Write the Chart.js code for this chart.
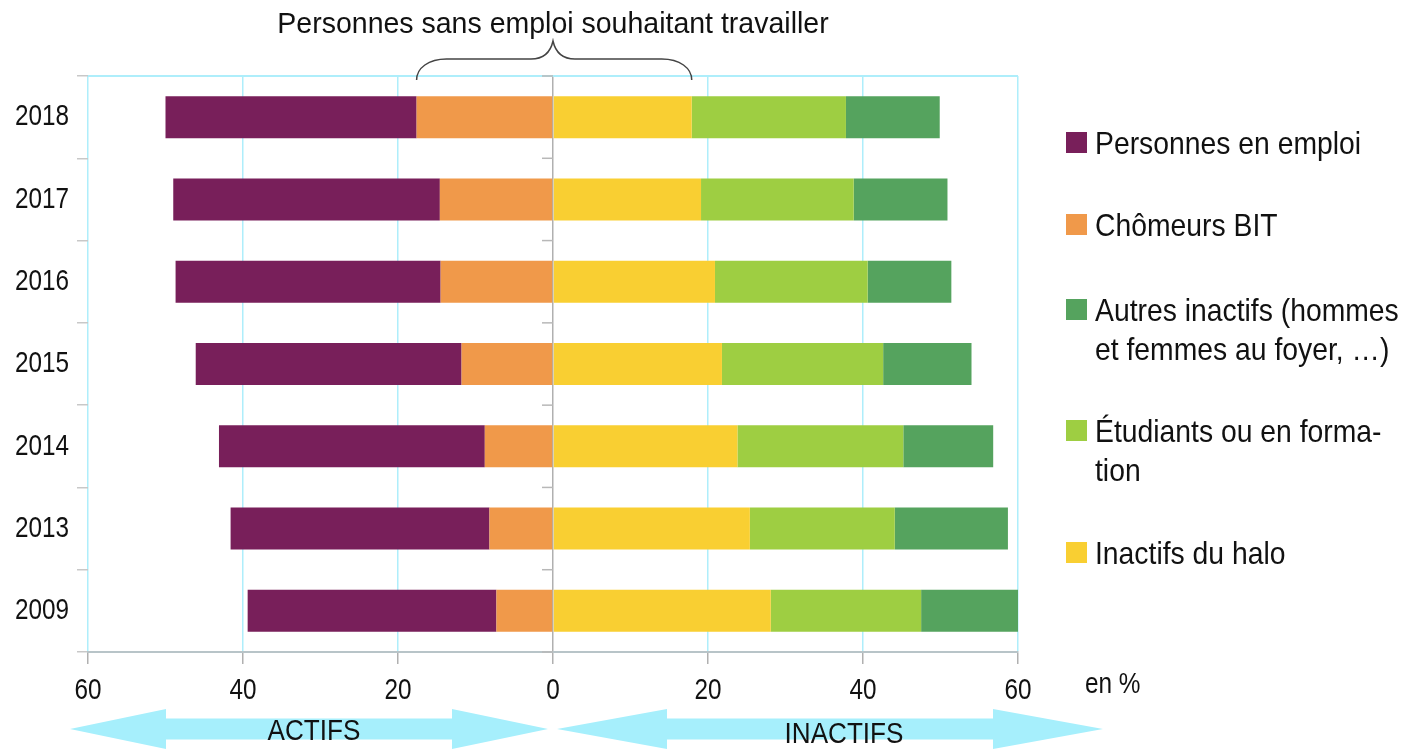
<!DOCTYPE html>
<html>
<head>
<meta charset="utf-8">
<script src="https://cdn.jsdelivr.net/npm/chart.js@4"></script>
<style>
  body { margin: 0; background: #fff; }
  #wrap { position: relative; width: 1403px; height: 749px; overflow: hidden;
          font-family: 'Liberation Sans', Arial, sans-serif; color: #111; }
  #chart { position: absolute; left: 0; top: 0; }
  .txt { position: absolute; font-size: 30px; line-height: 39px; white-space: nowrap; }
  .sw { position: absolute; width: 21px; height: 21px; }
</style>
</head>
<body>
<div id="wrap">
  <canvas id="chart" width="1403" height="749"></canvas>
  <div class="txt" style="left:0; width:1106px; top:3px; text-align:center; transform:scaleX(0.95);">Personnes sans emploi souhaitant travailler</div>
  <div class="txt" style="left:1085px; top:664px; font-size:29px; transform:scaleX(0.84); transform-origin:0 0;">en %</div>
  <div class="txt" style="left:214px; width:200px; top:710px; text-align:center; transform:scaleX(0.87);">ACTIFS</div>
  <div class="txt" style="left:744px; width:200px; top:713px; text-align:center; transform:scaleX(0.87);">INACTIFS</div>
  <div id="legend"></div>
</div>
<script>
// years, top to bottom
let years = ['2018', '2017', '2016', '2015', '2014', '2013', '2009']

// actifs (drawn to the left of 0)
let emploi = [32.4, 34.4, 34.2, 34.3, 34.3, 33.4, 32.1]
let chomeurs = [17.6, 14.6, 14.5, 11.8, 8.8, 8.2, 7.3]

// inactifs (drawn to the right of 0)
let halo = [17.9, 19.1, 20.9, 21.8, 23.8, 25.4, 28.1]
let etudiants = [19.9, 19.7, 19.7, 20.8, 21.4, 18.7, 19.4]
let autres = [12.1, 12.1, 10.8, 11.4, 11.6, 14.6, 12.5]

let xTicks = [-60, -40, -20, 0, 20, 40, 60]

let colors = {
    emploi: '#781F5A',
    chomeurs: '#F0994A',
    autres: '#55A35E',
    etudiants: '#9ECE42',
    halo: '#F9CF32'
}

let cyan = '#aeeefb'
let arrowColor = '#a6effc'

// legend, in the order of the picture
let legendItems = [
    { label: 'Personnes en emploi', color: colors.emploi, top: 124 },
    { label: 'Chômeurs BIT', color: colors.chomeurs, top: 206 },
    { label: 'Autres inactifs (hommes<br>et femmes au foyer, …)', color: colors.autres, top: 291 },
    { label: 'Étudiants ou en forma-<br>tion', color: colors.etudiants, top: 412 },
    { label: 'Inactifs du halo', color: colors.halo, top: 534 }
]

let legendBox = document.querySelector('#legend')
legendItems.forEach(function(item) {
    let sw = document.createElement('div')
    sw.className = 'sw'
    sw.style.left = '1066px'
    sw.style.top = (item.top + 8) + 'px'
    sw.style.background = item.color
    legendBox.appendChild(sw)
    let t = document.createElement('div')
    t.className = 'txt'
    t.style.left = '1095px'
    t.style.top = item.top + 'px'
    t.style.fontSize = '32px'
    t.style.transform = 'scaleX(0.885)'
    t.style.transformOrigin = '0 0'
    t.innerHTML = item.label
    legendBox.appendChild(t)
})

let fontFamily = "'Liberation Sans', Arial, sans-serif"

// the tick labels of the picture use a narrow face: squeeze canvas text
let narrowText = {
    id: 'narrowText',
    beforeDraw(chart) {
        let ctx = chart.ctx
        if (ctx._narrow) return
        let fill = ctx.fillText
        ctx.fillText = function(text, x, y, maxWidth) {
            let w = this.measureText(text).width * 0.81
            if (maxWidth !== undefined) w = Math.min(w, maxWidth)
            return fill.call(this, text, x, y, w)
        }
        ctx._narrow = true
    }
}

// arrows, brace and small ticks along the zero line
let decorations = {
    id: 'decorations',
    beforeDatasetsDraw(chart) {
        let ctx = chart.ctx
        let area = chart.chartArea
        ctx.save()
        ctx.strokeStyle = cyan
        ctx.lineWidth = 2
        ctx.beginPath()
        ctx.moveTo(area.left, area.top)
        ctx.lineTo(area.right, area.top)
        ctx.stroke()
        ctx.restore()
    },
    afterDraw(chart) {
        let ctx = chart.ctx
        let x = chart.scales.x
        let y = chart.scales.y
        let zero = x.getPixelForValue(0)
        ctx.save()

        // ticks on the zero line
        ctx.strokeStyle = '#b8b8b8'
        ctx.lineWidth = 1.5
        for (let i = 0; i <= years.length; i++) {
            let py = y.getPixelForValue(i - 0.5)
            ctx.beginPath()
            ctx.moveTo(zero - 11, py)
            ctx.lineTo(zero, py)
            ctx.stroke()
        }

        // arrows
        function arrow(x1, x2, cy, head) {
            ctx.beginPath()
            ctx.moveTo(x1, cy)
            ctx.lineTo(x1 + head, cy - 20)
            ctx.lineTo(x1 + head, cy - 10.5)
            ctx.lineTo(x2 - head, cy - 10.5)
            ctx.lineTo(x2 - head, cy - 20)
            ctx.lineTo(x2, cy)
            ctx.lineTo(x2 - head, cy + 20)
            ctx.lineTo(x2 - head, cy + 10.5)
            ctx.lineTo(x1 + head, cy + 10.5)
            ctx.lineTo(x1 + head, cy + 20)
            ctx.closePath()
            ctx.fill()
        }
        ctx.fillStyle = arrowColor
        arrow(x.getPixelForValue(-60) - 18, zero - 5, 729, 96)
        arrow(zero + 4, x.getPixelForValue(60) + 85, 729, 110)

        // brace over the top bar: chômeurs + halo
        let xl = x.getPixelForValue(-chomeurs[0])
        let xr = x.getPixelForValue(halo[0])
        let top = chart.chartArea.top
        ctx.strokeStyle = '#444'
        ctx.lineWidth = 1.5
        ctx.beginPath()
        ctx.moveTo(xl, top + 4)
        ctx.bezierCurveTo(xl, top - 8, xl + 12, top - 17, xl + 30, top - 17)
        ctx.lineTo(zero - 22, top - 17)
        ctx.bezierCurveTo(zero - 8, top - 17, zero - 2, top - 26, zero, top - 35)
        ctx.bezierCurveTo(zero + 2, top - 26, zero + 8, top - 17, zero + 22, top - 17)
        ctx.lineTo(xr - 30, top - 17)
        ctx.bezierCurveTo(xr - 12, top - 17, xr, top - 8, xr, top + 4)
        ctx.stroke()
        ctx.restore()
    }
}

let ctx = document.querySelector('#chart').getContext('2d')

let chart = new Chart(ctx, {
    type: 'bar',
    data: {
        labels: years,
        datasets: [
            // nearest to zero first
            { label: 'Chômeurs BIT', data: chomeurs.map(v => -v), backgroundColor: colors.chomeurs },
            { label: 'Personnes en emploi', data: emploi.map(v => -v), backgroundColor: colors.emploi },
            { label: 'Inactifs du halo', data: halo, backgroundColor: colors.halo },
            { label: 'Étudiants ou en formation', data: etudiants, backgroundColor: colors.etudiants },
            { label: 'Autres inactifs (hommes et femmes au foyer, …)', data: autres, backgroundColor: colors.autres }
        ]
    },
    options: {
        indexAxis: 'y',
        responsive: false,
        animation: false,
        layout: { padding: { left: 0, top: 76, right: 385, bottom: 0 } },
        datasets: { bar: { barPercentage: 0.51, categoryPercentage: 1 } },
        plugins: {
            legend: { display: false },
            tooltip: { enabled: false }
        },
        scales: {
            x: {
                stacked: true,
                min: -60,
                max: 60,
                afterFit: function(scale) { scale.height = 97 },
                afterBuildTicks: function(scale) { scale.ticks = xTicks.map(v => ({ value: v })) },
                ticks: {
                    padding: 9,
                    color: '#111',
                    font: { family: fontFamily, size: 30 },
                    callback: function(value) { return Math.abs(value) }
                },
                grid: {
                    color: function(c) { return c.tick && c.tick.value === 0 ? '#b0b0b0' : cyan },
                    lineWidth: 1.5,
                    tickColor: '#b0b0b0',
                    tickLength: 12
                },
                border: { color: '#b8c4c8', width: 2 }
            },
            y: {
                stacked: true,
                afterFit: function(scale) { scale.width = 88 },
                ticks: {
                    padding: 8,
                    color: '#111',
                    font: { family: fontFamily, size: 30 }
                },
                grid: {
                    drawOnChartArea: false,
                    tickColor: '#c8c8c8',
                    tickLength: 11,
                    lineWidth: 1.5
                },
                border: { display: false }
            }
        }
    },
    plugins: [narrowText, decorations]
})
</script>
</body>
</html>
